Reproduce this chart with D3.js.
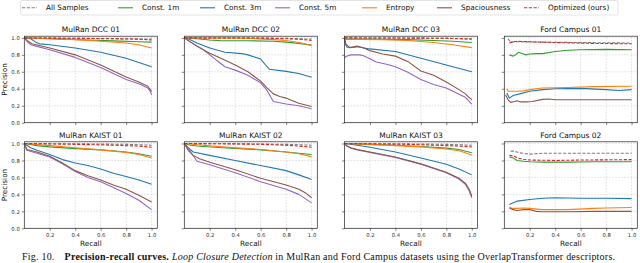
<!DOCTYPE html>
<html>
<head>
<meta charset="utf-8">
<script src="https://cdn.jsdelivr.net/npm/d3@7"></script>
<style>
  body { margin: 0; background: #fff; }
  svg { display: block; }
</style>
</head>
<body>
<svg id="chart" width="640" height="263"></svg>
<script>
// series names / colours (matplotlib tab10)
var seriesNames = ["All Samples", "Const. 1m", "Const. 3m", "Const. 5m", "Entropy", "Spaciousness", "Optimized (ours)"];
var seriesKeys = ["all", "c1m", "c3m", "c5m", "entropy", "spacious", "opt"];
var seriesColors = ["#7f7f7f", "#2ca02c", "#1f77b4", "#9467bd", "#ff7f0e", "#8c564b", "#d62728"];
var seriesDashed = [true, false, false, false, false, false, true];

var panelTitles = ["MulRan DCC 01", "MulRan DCC 02", "MulRan DCC 03", "Ford Campus 01",
                   "MulRan KAIST 01", "MulRan KAIST 02", "MulRan KAIST 03", "Ford Campus 02"];
var xTicks = [0.2, 0.4, 0.6, 0.8, 1.0];
var yTicks = [0.0, 0.2, 0.4, 0.6, 0.8, 1.0];

// [recall, precision] pairs
var dcc01 = {
  all: [[0,1],[0.3,0.997],[0.6,0.993],[0.8,0.99],[1,0.985]],
  c1m: [[0,1],[0.1,0.995],[0.3,0.985],[0.5,0.975],[0.7,0.965],[0.9,0.955],[1,0.95]],
  c3m: [[0,1],[0.05,0.99],[0.09,0.95],[0.12,0.93],[0.2,0.92],[0.4,0.88],[0.6,0.83],[0.8,0.76],[0.9,0.71],[1,0.66]],
  c5m: [[0,1],[0.02,0.96],[0.05,0.92],[0.1,0.9],[0.2,0.86],[0.4,0.77],[0.6,0.65],[0.8,0.51],[0.9,0.46],[0.97,0.41],[0.99,0.37],[1,0.33]],
  entropy: [[0,1],[0.2,0.99],[0.4,0.98],[0.6,0.96],[0.8,0.94],[0.9,0.92],[1,0.88]],
  spacious: [[0,1],[0.03,0.96],[0.06,0.93],[0.2,0.88],[0.4,0.8],[0.6,0.68],[0.8,0.54],[0.9,0.48],[0.97,0.43],[1,0.37]],
  opt: [[0,1],[0.4,0.995],[0.7,0.99],[0.9,0.985],[1,0.975]]
};
var dcc02 = {
  all: [[0,1],[0.5,1],[0.8,0.995],[1,0.985]],
  c1m: [[0,1],[0.1,0.99],[0.2,0.975],[0.28,0.968],[0.5,0.967],[0.7,0.96],[0.8,0.95],[0.9,0.935],[1,0.915]],
  c3m: [[0,1],[0.03,0.99],[0.1,0.94],[0.2,0.88],[0.32,0.83],[0.45,0.815],[0.5,0.8],[0.6,0.75],[0.65,0.66],[0.67,0.63],[0.8,0.605],[0.9,0.58],[1,0.535]],
  c5m: [[0,1],[0.05,0.95],[0.15,0.86],[0.25,0.74],[0.32,0.66],[0.4,0.62],[0.5,0.56],[0.6,0.47],[0.65,0.38],[0.7,0.25],[0.8,0.22],[0.9,0.2],[1,0.165]],
  entropy: [[0,1],[0.5,0.995],[0.7,0.98],[0.8,0.97],[0.9,0.945],[1,0.91]],
  spacious: [[0,1],[0.05,0.95],[0.1,0.9],[0.2,0.82],[0.3,0.75],[0.4,0.68],[0.5,0.6],[0.6,0.49],[0.65,0.41],[0.7,0.34],[0.75,0.31],[0.8,0.29],[0.85,0.26],[0.9,0.23],[1,0.19]],
  opt: [[0,1],[0.6,0.998],[0.8,0.99],[0.9,0.985],[1,0.97]]
};
var dcc03 = {
  all: [[0,1],[0.5,0.998],[0.8,0.995],[1,0.99]],
  c1m: [[0,0.985],[0.2,0.985],[0.5,0.98],[0.7,0.97],[0.85,0.96],[1,0.945]],
  c3m: [[0,1],[0.01,0.93],[0.04,0.885],[0.08,0.89],[0.1,0.895],[0.2,0.87],[0.4,0.84],[0.6,0.76],[0.8,0.68],[1,0.6]],
  c5m: [[0,0.76],[0.01,0.78],[0.05,0.8],[0.12,0.8],[0.15,0.79],[0.2,0.755],[0.25,0.715],[0.33,0.69],[0.4,0.66],[0.49,0.6],[0.6,0.51],[0.7,0.45],[0.8,0.41],[0.9,0.335],[0.95,0.3],[1,0.22]],
  entropy: [[0,0.985],[0.3,0.98],[0.5,0.97],[0.7,0.945],[0.85,0.92],[1,0.885]],
  spacious: [[0,1],[0.005,0.93],[0.02,0.89],[0.05,0.89],[0.1,0.905],[0.15,0.88],[0.2,0.85],[0.3,0.81],[0.4,0.785],[0.5,0.72],[0.6,0.61],[0.7,0.56],[0.8,0.48],[0.9,0.39],[0.95,0.34],[1,0.27]],
  opt: [[0,1],[0.5,0.998],[0.8,0.995],[1,0.985]]
};
var ford01 = {
  all: [[0.03,0.99],[0.05,0.95],[0.1,0.955],[0.3,0.95],[0.6,0.945],[1,0.94]],
  c1m: [[0.04,0.8],[0.07,0.785],[0.09,0.8],[0.11,0.83],[0.14,0.815],[0.17,0.8],[0.2,0.81],[0.25,0.815],[0.3,0.815],[0.4,0.84],[0.5,0.855],[0.6,0.86],[0.8,0.865],[1,0.86]],
  c3m: [[0.02,0.35],[0.04,0.29],[0.07,0.32],[0.12,0.34],[0.2,0.37],[0.3,0.39],[0.4,0.4],[0.6,0.405],[0.8,0.39],[0.9,0.38],[1,0.39]],
  c5m: [],
  entropy: [[0.02,0.4],[0.03,0.37],[0.06,0.37],[0.1,0.37],[0.15,0.375],[0.2,0.39],[0.3,0.41],[0.5,0.415],[0.7,0.425],[1,0.43]],
  spacious: [[0.01,0.33],[0.03,0.27],[0.05,0.24],[0.08,0.25],[0.1,0.26],[0.13,0.245],[0.17,0.245],[0.22,0.25],[0.3,0.275],[0.35,0.28],[0.4,0.27],[0.6,0.27],[0.8,0.27],[1,0.27]],
  opt: [[0.04,0.94],[0.06,0.95],[0.1,0.96],[0.2,0.955],[0.4,0.945],[0.7,0.935],[1,0.93]]
};
var kaist01 = {
  all: [[0,1],[0.5,0.995],[0.8,0.99],[1,0.98]],
  c1m: [[0,1],[0.1,0.975],[0.2,0.96],[0.4,0.94],[0.6,0.925],[0.8,0.9],[0.9,0.88],[1,0.85]],
  c3m: [[0,1],[0.05,0.95],[0.1,0.92],[0.2,0.87],[0.3,0.81],[0.4,0.77],[0.5,0.74],[0.6,0.7],[0.7,0.65],[0.8,0.61],[0.9,0.57],[1,0.52]],
  c5m: [[0,1],[0.02,0.92],[0.1,0.885],[0.2,0.84],[0.3,0.76],[0.4,0.67],[0.5,0.6],[0.6,0.55],[0.7,0.48],[0.8,0.41],[0.9,0.33],[1,0.22]],
  entropy: [[0,1],[0.2,0.975],[0.4,0.95],[0.6,0.925],[0.8,0.895],[0.9,0.87],[1,0.83]],
  spacious: [[0,1],[0.02,0.93],[0.1,0.9],[0.2,0.85],[0.3,0.77],[0.4,0.68],[0.5,0.62],[0.6,0.57],[0.7,0.51],[0.8,0.46],[0.9,0.39],[1,0.31]],
  opt: [[0,1],[0.4,0.99],[0.7,0.98],[0.9,0.97],[1,0.955]]
};
var kaist02 = {
  all: [[0,1],[0.5,0.995],[0.8,0.99],[1,0.98]],
  c1m: [[0,1],[0.05,0.98],[0.1,0.97],[0.3,0.95],[0.6,0.925],[0.8,0.9],[1,0.87]],
  c3m: [[0,1],[0.03,0.95],[0.07,0.9],[0.2,0.86],[0.4,0.8],[0.6,0.74],[0.8,0.68],[0.9,0.63],[1,0.575]],
  c5m: [[0,1],[0.04,0.92],[0.1,0.79],[0.2,0.75],[0.4,0.655],[0.6,0.55],[0.8,0.46],[0.9,0.4],[1,0.3]],
  entropy: [[0,1],[0.1,0.985],[0.3,0.96],[0.6,0.93],[0.8,0.9],[0.9,0.88],[1,0.845]],
  spacious: [[0,1],[0.03,0.92],[0.07,0.86],[0.12,0.82],[0.2,0.78],[0.4,0.69],[0.6,0.59],[0.8,0.51],[0.9,0.46],[0.95,0.42],[1,0.36]],
  opt: [[0,1],[0.4,0.995],[0.6,0.99],[0.8,0.98],[0.9,0.97],[1,0.955]]
};
var kaist03 = {
  all: [[0,1],[0.5,0.995],[0.8,0.99],[1,0.98]],
  c1m: [[0,1],[0.2,0.99],[0.4,0.98],[0.6,0.965],[0.8,0.945],[0.9,0.93],[1,0.89]],
  c3m: [[0,1],[0.1,0.98],[0.2,0.955],[0.4,0.9],[0.6,0.83],[0.8,0.755],[0.9,0.7],[1,0.63]],
  c5m: [[0,1],[0.02,0.97],[0.05,0.945],[0.1,0.925],[0.2,0.895],[0.4,0.835],[0.6,0.755],[0.8,0.655],[0.9,0.58],[0.95,0.52],[0.98,0.44],[1,0.36]],
  entropy: [[0,1],[0.2,0.99],[0.4,0.975],[0.6,0.96],[0.8,0.935],[0.9,0.915],[1,0.865]],
  spacious: [[0,1],[0.02,0.97],[0.05,0.95],[0.1,0.93],[0.2,0.9],[0.4,0.84],[0.6,0.76],[0.8,0.66],[0.9,0.59],[0.95,0.53],[0.98,0.46],[1,0.38]],
  opt: [[0,1],[0.5,0.99],[0.8,0.975],[0.9,0.97],[1,0.96]]
};
var ford02 = {
  all: [[0.05,0.91],[0.08,0.91],[0.12,0.89],[0.2,0.875],[0.3,0.885],[0.5,0.885],[1,0.885]],
  c1m: [[0.04,0.84],[0.07,0.83],[0.1,0.8],[0.15,0.79],[0.2,0.785],[0.3,0.78],[0.5,0.78],[0.7,0.785],[1,0.785]],
  c3m: [[0.04,0.28],[0.07,0.3],[0.1,0.32],[0.2,0.34],[0.3,0.355],[0.4,0.36],[0.6,0.355],[0.8,0.355],[1,0.35]],
  c5m: [],
  entropy: [[0.04,0.25],[0.06,0.235],[0.1,0.235],[0.15,0.24],[0.2,0.235],[0.3,0.22],[0.5,0.22],[0.7,0.235],[0.8,0.24],[1,0.245]],
  spacious: [[0.04,0.24],[0.07,0.22],[0.1,0.21],[0.15,0.22],[0.2,0.22],[0.25,0.2],[0.3,0.195],[0.5,0.195],[0.7,0.2],[1,0.2]],
  opt: [[0.04,0.86],[0.08,0.85],[0.1,0.83],[0.15,0.815],[0.2,0.805],[0.4,0.8],[0.6,0.805],[1,0.81]]
};
var panelData = [dcc01, dcc02, dcc03, ford01, kaist01, kaist02, kaist03, ford02];

// layout
var panelLeft = [24.3, 184.3, 344.5, 504.3];
var panelW = 133;
var rowBottom = [122.7, 228.3];
var panelH = 86.5;
var fontSans = "DejaVu Sans, sans-serif";

var svg = d3.select("#chart");

panelData.forEach(function(data, i) {
    var col = i % 4, row = Math.floor(i / 4);
    var x0 = panelLeft[col], y1 = rowBottom[row];
    var x = d3.scaleLinear().domain([0, 1.045]).range([x0, x0 + panelW]);
    var y = d3.scaleLinear().domain([0, 1.02]).range([y1, y1 - panelH]);

    var g = svg.append("g");

    // grid
    g.selectAll(".gx").data(xTicks).enter().append("line")
        .attr("x1", function(d){ return x(d); }).attr("x2", function(d){ return x(d); })
        .attr("y1", y1).attr("y2", y1 - panelH)
        .attr("stroke", "#c8c8c8").attr("stroke-width", 0.6).attr("stroke-dasharray", "1.5,1.5");
    g.selectAll(".gy").data(yTicks).enter().append("line")
        .attr("x1", x0).attr("x2", x0 + panelW)
        .attr("y1", function(d){ return y(d); }).attr("y2", function(d){ return y(d); })
        .attr("stroke", "#c8c8c8").attr("stroke-width", 0.6).attr("stroke-dasharray", "1.5,1.5");

    // axes
    var xAxis = d3.axisBottom(x).tickValues(xTicks).tickSize(2.5).tickPadding(2)
        .tickFormat(d3.format(".1f"));
    var yAxis = d3.axisLeft(y).tickValues(yTicks).tickSize(2.5).tickPadding(2)
        .tickFormat(col === 0 ? d3.format(".1f") : "");
    var gx = g.append("g").attr("transform", "translate(0," + y1 + ")").call(xAxis);
    var gy = g.append("g").attr("transform", "translate(" + x0 + ",0)").call(yAxis);
    [gx, gy].forEach(function(a) {
        a.select(".domain").remove();
        a.selectAll(".tick line").attr("stroke", "#333").attr("stroke-width", 0.6);
        a.selectAll("text").attr("font-family", fontSans).attr("font-size", "5.3px").attr("fill", "#333");
    });
    if (row === 0) gx.selectAll("text").remove();

    // clip + curves
    var clipId = "clip" + i;
    svg.append("clipPath").attr("id", clipId).append("rect")
        .attr("x", x0).attr("y", y1 - panelH).attr("width", panelW).attr("height", panelH);

    var line = d3.line().x(function(d){ return x(d[0]); }).y(function(d){ return y(d[1]); });
    var lines = g.append("g").attr("clip-path", "url(#" + clipId + ")");
    seriesKeys.forEach(function(k, s) {
        var pts = data[k];
        if (!pts || pts.length === 0) return;
        lines.append("path")
            .attr("d", line(pts))
            .attr("fill", "none")
            .attr("stroke", seriesColors[s])
            .attr("stroke-width", 1.1)
            .attr("stroke-linejoin", "round")
            .attr("stroke-dasharray", seriesDashed[s] ? "3.2,1.6" : null);
    });

    // frame
    g.append("rect").attr("x", x0).attr("y", y1 - panelH).attr("width", panelW).attr("height", panelH)
        .attr("fill", "none").attr("stroke", "#222").attr("stroke-width", 0.7);

    // title
    g.append("text").attr("x", x0 + panelW / 2).attr("y", y1 - panelH - 4)
        .attr("text-anchor", "middle").attr("font-family", fontSans).attr("font-size", "7.5px")
        .attr("fill", "#111").text(panelTitles[i]);

    if (col === 0) {
        g.append("text")
            .attr("transform", "translate(6.5," + (y1 - panelH / 2) + ") rotate(-90)")
            .attr("text-anchor", "middle").attr("font-family", fontSans).attr("font-size", "7.3px")
            .attr("fill", "#111").text("Precision");
    }
    if (row === 1) {
        g.append("text").attr("x", x0 + panelW / 2).attr("y", y1 + 18)
            .attr("text-anchor", "middle").attr("font-family", fontSans).attr("font-size", "7.3px")
            .attr("fill", "#111").text("Recall");
    }
});

// legend
var legendX = [22, 118, 200, 275, 362, 437, 524];
var leg = svg.append("g");
leg.append("rect").attr("x", 20.5).attr("y", 0.5).attr("width", 597.5).attr("height", 14.5)
    .attr("rx", 1.5).attr("fill", "#fff").attr("stroke", "#d9d9d9").attr("stroke-width", 0.7);
seriesNames.forEach(function(name, s) {
    var lx = legendX[s];
    leg.append("line").attr("x1", lx).attr("x2", lx + 15).attr("y1", 7.8).attr("y2", 7.8)
        .attr("stroke", seriesColors[s]).attr("stroke-width", 1.1)
        .attr("stroke-dasharray", seriesDashed[s] ? "3.2,1.6" : null);
    leg.append("text").attr("x", lx + 24).attr("y", 10.3)
        .attr("font-family", fontSans).attr("font-size", "7.3px").attr("fill", "#111").text(name);
});

// caption
var cap = svg.append("text").attr("x", 22).attr("y", 259.5)
    .attr("font-family", "Liberation Serif, Times New Roman, serif").attr("font-size", "10px")
    .attr("fill", "#111").attr("textLength", 593).attr("lengthAdjust", "spacing");
cap.append("tspan").text("Fig. 10.");
cap.append("tspan").attr("dx", 10).attr("font-weight", "bold").text("Precision-recall curves.");
cap.append("tspan").attr("dx", 3).attr("font-style", "italic").text("Loop Closure Detection");
cap.append("tspan").text(" in MulRan and Ford Campus datasets using the OverlapTransformer descriptors.");
</script>
</body>
</html>
